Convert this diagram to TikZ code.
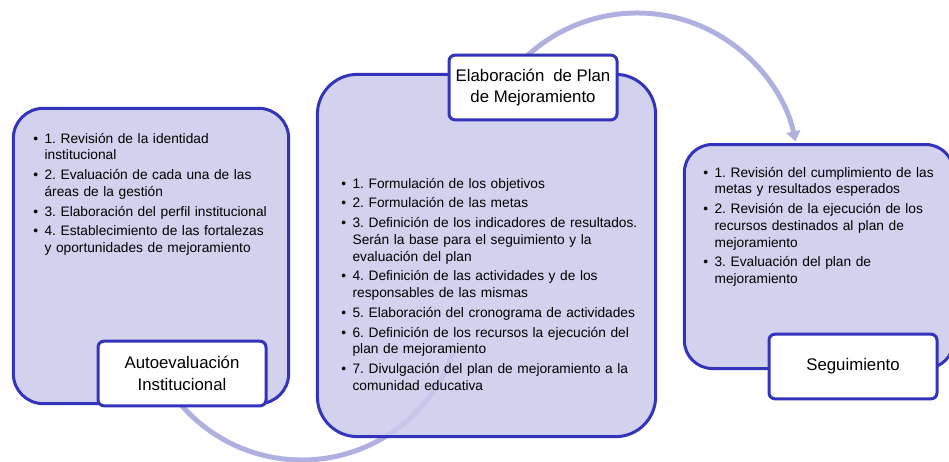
\documentclass[tikz,border=0pt]{standalone}
\usepackage{fontspec}
\setmainfont{Liberation Sans}
\usetikzlibrary{arrows.meta}
\definecolor{boxfill}{RGB}{202,202,235}
\definecolor{boxline}{RGB}{51,51,187}
\definecolor{arcc}{RGB}{176,176,224}
\newcommand{\bul}[1]{\par\hangindent=8.5pt\hangafter=1\noindent\makebox[8.5pt][l]{\textbullet}#1\par}
\tikzset{
  mainbox/.style={draw=boxline, line width=2.25pt, fill=boxfill, fill opacity=0.85, inner sep=0pt},
  labelbox/.style={draw=boxline, line width=2.25pt, fill=white, rounded corners=4.5pt, align=center,
    font=\fontsize{12.6}{16}\selectfont, inner sep=0pt, minimum width=126pt, minimum height=48.5pt},
  itemtext/.style={anchor=north west, inner sep=0pt, text width=240pt,
    font=\fontsize{10.3}{12.6}\selectfont\frenchspacing\raggedright\setlength{\parskip}{2.2pt}},
  arcline/.style={draw=arcc, line width=3.75pt}
}
\begin{document}
\begin{tikzpicture}[x=0.75pt,y=-0.75pt]
\useasboundingbox (0,0) rectangle (949,461);
\clip (0,0) rectangle (949,461);
% arc centres
\coordinate (c1) at (302,300);
\coordinate (c2) at (637,175);
\coordinate (a1s) at ([shift={(140:160)}]c1);
\coordinate (a2s) at ([shift={(-150:162)}]c2);
% arcs
\draw[arcline] (a1s) arc[start angle=140, end angle=18, radius=160];
\draw[arcline, -{Triangle[length=7.5pt,width=10.5pt]}] (a2s) arc[start angle=-150, end angle=-12, radius=162];
% main boxes
\node[mainbox, rounded corners=22.5pt, minimum width=206.5pt, minimum height=221.5pt] (autoB) at (151,256) {};
\node[mainbox, rounded corners=30pt, minimum width=253.7pt, minimum height=271.7pt] (planB) at (486.5,255.5) {};
\node[mainbox, rounded corners=21pt, minimum width=202pt, minimum height=168pt] (segB) at (819,256.5) {};
% labels
\node[labelbox] (autoL) at (182,373.5) {Autoevaluación\\Institucional};
\node[labelbox] (planL) at (533,87.5) {Elaboración\hspace{0.25em} de Plan\\de Mejoramiento};
\node[labelbox] (segL) at (853,366.5) {Seguimiento};
% texts
\node[itemtext] (autoT) at (33,123) {%
\bul{1. Revisión de la identidad\newline institucional}
\bul{2. Evaluación de cada una de las\newline áreas de la gestión}
\bul{3. Elaboración del perfil institucional}
\bul{4. Establecimiento de las fortalezas\newline y oportunidades de mejoramiento}};
\node[itemtext] (planT) at (341,168) {%
\bul{1. Formulación de los objetivos}
\bul{2. Formulación de las metas}
\bul{3. Definición de los indicadores de resultados.\newline Serán la base para el seguimiento y la\newline evaluación del plan}
\bul{4. Definición de las actividades y de los\newline responsables de las mismas}
\bul{5. Elaboración del cronograma de actividades}
\bul{6. Definición de los recursos la ejecución del\newline plan de mejoramiento}
\bul{7. Divulgación del plan de mejoramiento a la\newline comunidad educativa}};
\node[itemtext] (segT) at (703,157) {%
\bul{1. Revisión del cumplimiento de las\newline metas y resultados esperados}
\bul{2. Revisión de la ejecución de los\newline recursos destinados al plan de\newline mejoramiento}
\bul{3. Evaluación del plan de\newline mejoramiento}};
\end{tikzpicture}
\end{document}
